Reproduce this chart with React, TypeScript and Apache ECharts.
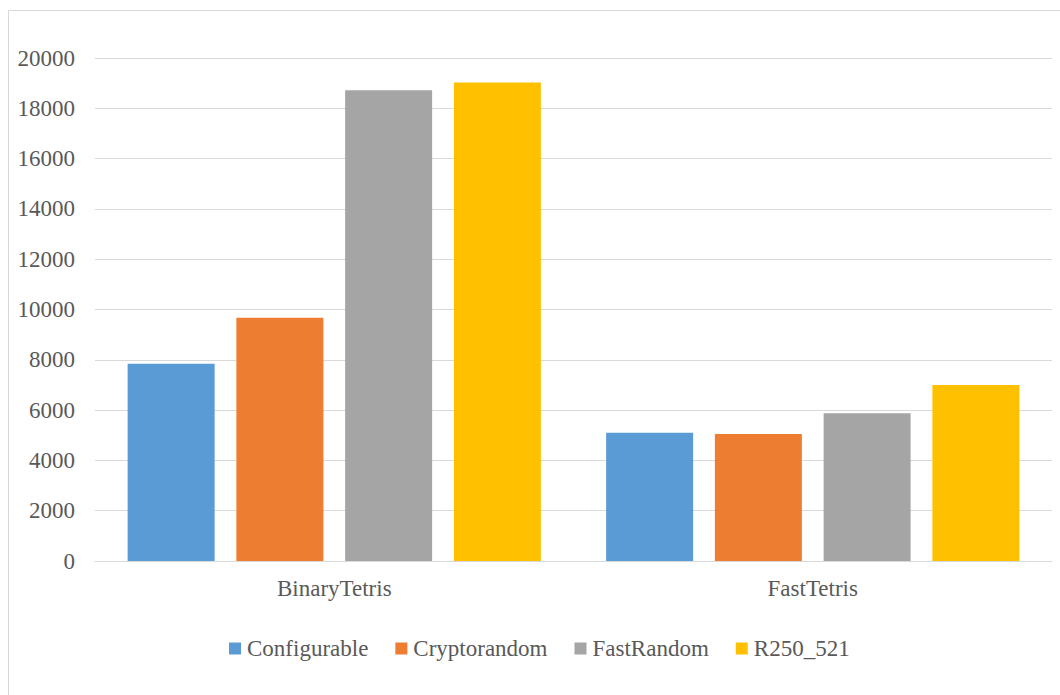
import React, { useEffect, useRef } from "react";
import * as echarts from "echarts";

// Benchmark categories and generator series
const categories = ["BinaryTetris", "FastTetris"];
const seriesNames = ["Configurable", "Cryptorandom", "FastRandom", "R250_521"];
const configurable = [7840, 5100];
const cryptorandom = [9670, 5050];
const fastRandom = [18720, 5870];
const r250_521 = [19030, 7000];
const yTicks = [0, 2000, 4000, 6000, 8000, 10000, 12000, 14000, 16000, 18000, 20000];

const colors = ["#5B9BD5", "#ED7D31", "#A5A5A5", "#FFC000"];
const textColor = "#595959";
const gridColor = "#D9D9D9";
const fontFamily = "Liberation Serif";
const fontSize = 23;

export default function App() {
  const ref = useRef<HTMLDivElement>(null);

  useEffect(() => {
    if (!ref.current) return;
    const chart = echarts.init(ref.current, undefined, { renderer: "svg" });
    const values = [configurable, cryptorandom, fastRandom, r250_521];

    chart.setOption({
      animation: false,
      backgroundColor: "#FFFFFF",
      textStyle: { fontFamily },
      graphic: [
        {
          type: "rect",
          shape: { x: 8.5, y: 10.5, width: 1200, height: 800 },
          style: { fill: "none", stroke: gridColor, lineWidth: 1 },
          silent: true,
        },
      ],
      legend: {
        data: seriesNames,
        left: 224,
        top: 632,
        itemWidth: 12,
        itemHeight: 12,
        itemGap: 27,
        icon: "rect",
        textStyle: { color: textColor, fontSize, fontFamily, padding: [0, 0, 0, 1] },
      },
      grid: { left: 95, right: 8, top: 58, bottom: 134, containLabel: false },
      xAxis: {
        type: "category",
        data: categories,
        axisLine: { show: true, lineStyle: { color: gridColor, width: 1 } },
        axisTick: { show: false },
        axisLabel: { color: textColor, fontSize, fontFamily, margin: 16 },
      },
      yAxis: {
        type: "value",
        min: yTicks[0],
        max: yTicks[yTicks.length - 1],
        interval: yTicks[1] - yTicks[0],
        axisLine: { show: false },
        axisTick: { show: false },
        splitLine: { lineStyle: { color: gridColor, width: 1 } },
        axisLabel: {
          color: textColor,
          fontSize,
          fontFamily,
          margin: 20,
          formatter: (v: number) => String(v),
        },
      },
      series: seriesNames.map((name, i) => ({
        name,
        type: "bar",
        data: values[i],
        barWidth: 87,
        barGap: "25%",
        itemStyle: { color: colors[i] },
      })),
    });

    return () => chart.dispose();
  }, []);

  return (
    <div
      ref={ref}
      style={{ position: "fixed", left: 0, top: 0, width: 1060, height: 695 }}
    />
  );
}
